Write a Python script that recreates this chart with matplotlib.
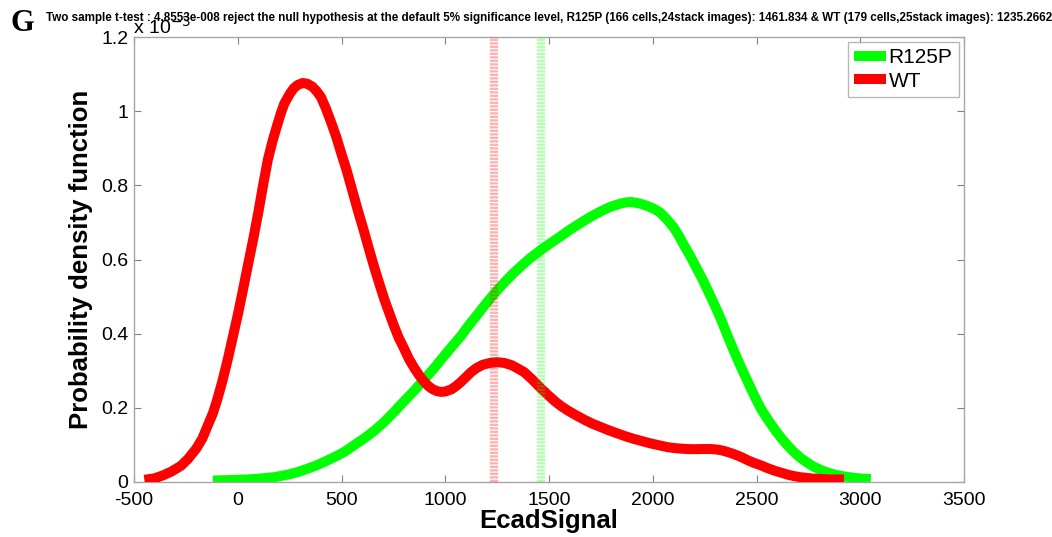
import matplotlib
matplotlib.use("Agg")
import matplotlib.pyplot as plt
from matplotlib.ticker import FixedLocator, FuncFormatter

# Kernel density estimates of E-cadherin signal (pdf in units of 1e-3)
wt_signal = [-450, -400, -360, -320, -273, -240, -200, -170, -145, -120, -100,
             -75, -48, -25, 0, 24, 48, 75, 100, 122, 145, 168, 190, 208, 224,
             250, 270, 290, 313, 335, 360, 380, 401, 425, 450, 475, 498, 525,
             550, 580, 610, 635, 660, 685, 706, 730, 750, 775, 803, 825, 850,
             875, 899, 920, 940, 960, 979, 1000, 1030, 1053, 1076, 1100, 1124,
             1150, 1180, 1215, 1252, 1285, 1320, 1350, 1381, 1420, 1464, 1500,
             1530, 1560, 1590, 1630, 1670, 1710, 1750, 1790, 1830, 1870, 1910,
             1950, 1990, 2030, 2071, 2105, 2140, 2170, 2200, 2230, 2260, 2285,
             2310, 2335, 2360, 2385, 2408, 2435, 2460, 2490, 2521, 2555, 2590,
             2620, 2649, 2680, 2710, 2745, 2777, 2815, 2850, 2885, 2922]
wt_pdf = [0.006, 0.010, 0.018, 0.028, 0.044, 0.062, 0.090, 0.118, 0.152, 0.185,
          0.220, 0.270, 0.331, 0.388, 0.450, 0.515, 0.582, 0.656, 0.730, 0.800,
          0.869, 0.920, 0.962, 0.995, 1.020, 1.046, 1.062, 1.071, 1.076, 1.074,
          1.066, 1.054, 1.038, 1.007, 0.970, 0.930, 0.888, 0.840, 0.790, 0.730,
          0.673, 0.623, 0.575, 0.530, 0.493, 0.456, 0.425, 0.390, 0.358, 0.332,
          0.308, 0.287, 0.270, 0.258, 0.250, 0.245, 0.243, 0.244, 0.250, 0.259,
          0.270, 0.283, 0.296, 0.307, 0.316, 0.321, 0.323, 0.321, 0.315, 0.306,
          0.296, 0.276, 0.251, 0.232, 0.217, 0.204, 0.193, 0.180, 0.168, 0.157,
          0.148, 0.139, 0.131, 0.123, 0.116, 0.110, 0.104, 0.099, 0.094, 0.0915,
          0.0898, 0.0888, 0.0885, 0.0888, 0.0890, 0.0888, 0.0875, 0.0850, 0.0810,
          0.0765, 0.0715, 0.0650, 0.0580, 0.0510, 0.0450, 0.0370, 0.0300, 0.0250,
          0.0200, 0.0160, 0.0130, 0.0110, 0.0090, 0.0080, 0.0070, 0.0070, 0.0070]

r125p_signal = [-120, -50, 0, 50, 100, 140, 175, 215, 250, 290, 337, 380, 420,
                465, 513, 560, 610, 660, 706, 750, 800, 850, 899, 945, 990, 1035,
                1076, 1110, 1150, 1185, 1220, 1255, 1290, 1325, 1365, 1410, 1464,
                1510, 1557, 1605, 1654, 1700, 1750, 1800, 1846, 1875, 1895, 1920,
                1950, 1975, 2005, 2035, 2065, 2100, 2125, 2151, 2180, 2210, 2240,
                2264, 2300, 2330, 2360, 2392, 2425, 2460, 2490, 2521, 2555, 2590,
                2620, 2649, 2680, 2710, 2745, 2777, 2815, 2850, 2885, 2922, 2960,
                2990, 3020, 3051]
r125p_pdf = [0.004, 0.005, 0.006, 0.007, 0.009, 0.011, 0.013, 0.017, 0.021, 0.027,
             0.036, 0.045, 0.055, 0.067, 0.081, 0.099, 0.118, 0.139, 0.162, 0.187,
             0.217, 0.246, 0.277, 0.306, 0.337, 0.367, 0.394, 0.420, 0.448, 0.473,
             0.497, 0.520, 0.541, 0.561, 0.582, 0.604, 0.627, 0.645, 0.663, 0.682,
             0.699, 0.715, 0.730, 0.743, 0.751, 0.7545, 0.755, 0.753, 0.749, 0.744,
             0.737, 0.727, 0.710, 0.687, 0.665, 0.638, 0.610, 0.578, 0.546, 0.518,
             0.475, 0.437, 0.395, 0.352, 0.310, 0.268, 0.232, 0.198, 0.168, 0.140,
             0.118, 0.099, 0.081, 0.066, 0.052, 0.041, 0.031, 0.024, 0.019, 0.015,
             0.012, 0.010, 0.009, 0.008]

# Group means
r125p_mean = 1461.834
wt_mean = 1235.2662

x_ticks = [-500, 0, 500, 1000, 1500, 2000, 2500, 3000, 3500]
y_ticks = [0, 0.2, 0.4, 0.6, 0.8, 1.0, 1.2]

title_text = ("Two sample t-test : 4.8553e-008 reject the null hypothesis at the default 5% "
              "significance level, R125P (166 cells,24stack images): 1461.834 & "
              "WT (179 cells,25stack images): 1235.2662")

plt.rcParams['font.family'] = ['Liberation Sans', 'DejaVu Sans']

fig = plt.figure(figsize=(10.52, 5.37), dpi=100)
ax = fig.add_axes([134 / 1052, 1 - 482 / 537, 830 / 1052, 445 / 537])

GREEN = '#00ff00'
RED = '#ff0000'

ax.plot(r125p_signal, r125p_pdf, color=GREEN, lw=7.2, solid_capstyle='butt',
        solid_joinstyle='round', label='R125P', zorder=2)
ax.plot(wt_signal, wt_pdf, color=RED, lw=7.2, solid_capstyle='butt',
        solid_joinstyle='round', label='WT', zorder=3)

# mean markers
for m, c in ((wt_mean, RED), (r125p_mean, GREEN)):
    ax.plot([m, m], [0, 1.2], color=c, alpha=0.3, lw=6,
            linestyle=(0, (0.28, 0.14)), dash_capstyle='butt', zorder=4)

ax.set_xlim(-500, 3500)
ax.set_ylim(0, 1.2)
ax.xaxis.set_major_locator(FixedLocator(x_ticks))
ax.yaxis.set_major_locator(FixedLocator(y_ticks))
ax.xaxis.set_major_formatter(FuncFormatter(lambda v, p: f"{v:g}"))
ax.yaxis.set_major_formatter(FuncFormatter(lambda v, p: f"{v:g}"))

for s in ax.spines.values():
    s.set_color('#a6a6a6')
    s.set_linewidth(1.0)
ax.tick_params(direction='in', length=5, width=0.8, color='#808080',
               top=True, right=True, labelsize=14, labelcolor='black')
ax.tick_params(axis='x', pad=7)
ax.tick_params(axis='y', pad=4)

ax.set_xlabel('EcadSignal', fontsize=18.5, fontweight='bold', labelpad=0)
ax.set_ylabel('Probability density function', fontsize=18.5, fontweight='bold',
              labelpad=6)

leg = ax.legend(loc='upper right', fontsize=15, frameon=True, fancybox=False,
                edgecolor='#a6a6a6', handlelength=1.55, handletextpad=0.12,
                borderpad=0.3, labelspacing=0.2, borderaxespad=0.25)
leg.get_frame().set_linewidth(1.0)

# exponent multiplier of the y axis
fig.text(133 / 1052, 1 - 34 / 537, r'x 10$^{-3}$', fontsize=14, ha='left',
         va='baseline')

fig.text(549 / 1052, 1 - 21 / 537, title_text, fontsize=8.4, fontweight='bold',
         ha='center', va='baseline')
fig.text(10 / 1052, 1 - 31 / 537, 'G', fontsize=22, fontweight='bold',
         family='Liberation Serif', ha='left', va='baseline')

fig.savefig('out.png', dpi=100)
